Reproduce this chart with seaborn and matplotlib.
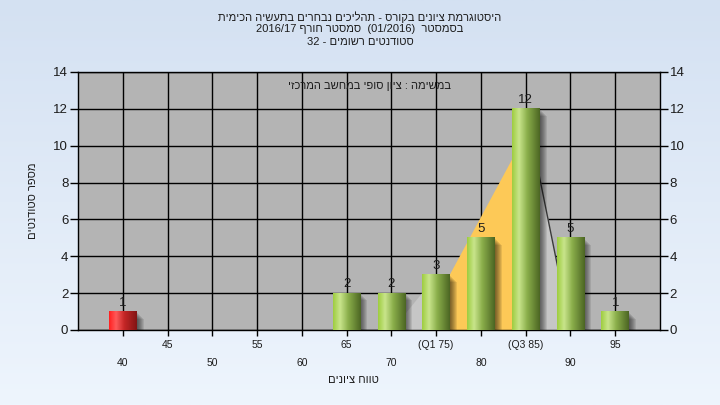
import re
import numpy as np
import pandas as pd
import matplotlib
matplotlib.use('Agg')
import matplotlib.pyplot as plt
from matplotlib.colors import LinearSegmentedColormap
from matplotlib.patches import Rectangle
import seaborn as sns

# --- data ---
grades = [40, 45, 50, 55, 60, 65, 70, 75, 80, 85, 90, 95]
students = [1, 0, 0, 0, 0, 2, 2, 3, 5, 12, 5, 1]
grade_labels = ['40', '45', '50', '55', '60', '65', '70', '(Q1 75)', '80', '(Q3 85)', '90', '95']
pass_grade = 55

# shaded areas behind the bars
left_tail_x = [70, 75]
left_tail_y = [0, 3]
right_tail_x = [85, 90]
right_tail_y = [12, 0]
iqr_x = [75, 85]
iqr_y = [1.7, 10.7]

y_ticks = [0, 2, 4, 6, 8, 10, 12, 14]

title_lines = [
    'היסטוגרמת ציונים בקורס - תהליכים נבחרים בתעשיה הכימית',
    'בסמסטר  (01/2016)  סמסטר חורף 2016/17',
    'סטודנטים רשומים - 32',
]
task_text = 'במשימה : ציון סופי במחשב המרכזי'
x_title = 'טווח ציונים'
y_title = 'מספר סטודנטים'


def rtl(s):
    # matplotlib has no bidi support: put hebrew text in visual order
    parts = re.findall(r'[A-Za-z0-9][A-Za-z0-9/.]*[A-Za-z0-9]|[A-Za-z0-9]|[^A-Za-z0-9]+', s)
    mirror = str.maketrans('()', ')(')
    out = []
    for p in reversed(parts):
        if p[0].isascii() and p[0].isalnum():
            out.append(p)
        else:
            out.append(p[::-1].translate(mirror))
    return ''.join(out)


sns.set_theme(style='white')
plt.rcParams['font.family'] = ['Liberation Sans', 'DejaVu Sans']
txt_color = '#1c1c1c'

fig = plt.figure(figsize=(7.2, 4.05), dpi=100)

# background gradient
bg = fig.add_axes([0, 0, 1, 1], zorder=-10)
bg_cmap = LinearSegmentedColormap.from_list('bg', ['#eef5fd', '#d4e1f2'])
bg.imshow(np.linspace(0, 1, 256).reshape(-1, 1)[::-1], aspect='auto', cmap=bg_cmap, extent=[0, 1, 0, 1])
bg.axis('off')

ax = fig.add_axes([78 / 720, 1 - 330 / 405, 582 / 720, 258 / 405])
ax.set_facecolor('#b4b4b4')

df = pd.DataFrame({'grade': grade_labels, 'students': students})
sns.barplot(data=df, x='grade', y='students', ax=ax, width=0.62, color='#9bcb3c', linewidth=0, zorder=3)

pos = {g: i for i, g in enumerate(grades)}

# areas (cover the grid, sit under the bars)
ax.fill_between([pos[g] for g in left_tail_x], left_tail_y, color='#c6c6c6', lw=0, zorder=1)
ax.fill_between([pos[g] for g in right_tail_x], right_tail_y, color='#c6c6c6', lw=0, zorder=1)
ax.plot([pos[g] for g in right_tail_x], right_tail_y, color='#3a3a3a', lw=1, zorder=1.1)
ax.fill_between([pos[g] for g in iqr_x], iqr_y, color='#fdc957', lw=0, zorder=1.2)

green = LinearSegmentedColormap.from_list('g', [(0, '#9fcd40'), (0.25, '#c9e58c'), (0.55, '#8aae4a'), (1, '#4c6624')])
red = LinearSegmentedColormap.from_list('r', [(0, '#ff2020'), (0.25, '#ff5a5a'), (0.55, '#c42626'), (1, '#821414')])
grad = np.linspace(0, 1, 64).reshape(1, -1)

for g, patch in zip(grades, ax.patches):
    h = patch.get_height()
    if h <= 0:
        continue
    x0 = patch.get_x()
    w = patch.get_width()
    # soft shadow
    for k in range(1, 8):
        ax.add_patch(Rectangle((x0 + k / 44.8, -k / 18.4), w, h, color='black', alpha=0.09, lw=0, zorder=2))
    cm = red if g < pass_grade else green
    ax.imshow(grad, extent=[x0, x0 + w, 0, h], aspect='auto', cmap=cm, zorder=3.5, interpolation='bilinear')

ax.bar_label(ax.containers[0], labels=[str(v) if v else '' for v in students],
             padding=2, fontsize=9.5, color=txt_color, zorder=6)

ax.set_xlim(-1, len(grades))
ax.set_ylim(0, 14)
ax.set_yticks(y_ticks)

# staggered category labels
odd = list(range(1, len(grades), 2))
even = list(range(0, len(grades), 2))
ax.set_xticks(odd, [grade_labels[i] for i in odd])
ax.set_xticks(even, [grade_labels[i] for i in even], minor=True)
ax.tick_params(axis='x', which='both', bottom=True, length=4, width=1, color='black',
               labelsize=7.5, labelcolor=txt_color, direction='out')
ax.tick_params(axis='x', which='major', pad=3)
ax.tick_params(axis='x', which='minor', pad=16)
ax.tick_params(axis='y', left=True, length=6, width=1, color='black', labelsize=9.5,
               labelcolor=txt_color, pad=1, direction='out')

ax.grid(True, which='both', color='black', lw=1)
ax.set_axisbelow(True)
for s in ax.spines.values():
    s.set_color('black')
    s.set_linewidth(1)

ax2 = ax.twinx()
ax2.set_ylim(0, 14)
ax2.set_yticks(y_ticks)
ax2.tick_params(axis='y', right=True, length=6, width=1, color='black', labelsize=9.5,
                labelcolor=txt_color, pad=1, direction='out')
ax2.grid(False)
for s in ax2.spines.values():
    s.set_visible(False)

ax.set_xlabel(rtl(x_title), fontsize=8, color=txt_color)
ax.xaxis.set_label_coords(0.4725, -0.175)
ax.set_ylabel(rtl(y_title), fontsize=8, color=txt_color)
ax.yaxis.set_label_coords(-0.068, 0.5)

ax.text(0.5, 0.945, rtl(task_text), transform=ax.transAxes, ha='center', va='center',
        fontsize=8, color=txt_color, zorder=6)

for i, line in enumerate(title_lines):
    fig.text(0.5, 1 - (17 + 12.5 * i) / 405, rtl(line), ha='center', va='center',
             fontsize=8, color=txt_color)

fig.savefig('out.png', dpi=100)
